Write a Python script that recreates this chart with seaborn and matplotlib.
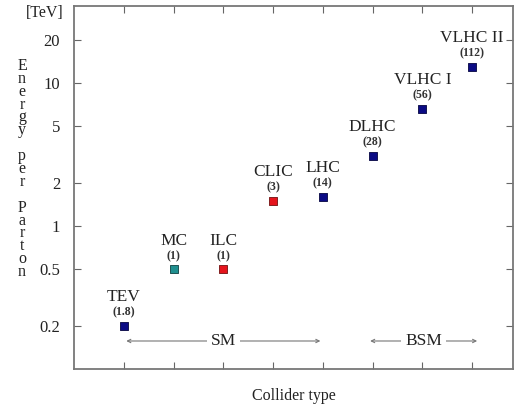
import matplotlib
matplotlib.use("Agg")
import matplotlib.pyplot as plt
import seaborn as sns
import pandas as pd
from matplotlib.ticker import FixedLocator, FixedFormatter, NullLocator

colliders = ["TEV", "MC", "ILC", "CLIC", "LHC", "DLHC", "VLHC I", "VLHC II"]
cm_energy = ["(1.8)", "(1)", "(1)", "(3)", "(14)", "(28)", "(56)", "(112)"]
energy = [0.2, 0.5, 0.5, 1.5, 1.6, 3.1, 6.6, 13.0]
kind = ["hadron", "muon", "lepton", "lepton", "hadron", "hadron", "hadron", "hadron"]
palette = {"hadron": "#0b0b84", "muon": "#1f8f8f", "lepton": "#e5141c"}
edges = {"hadron": "#050540", "muon": "#0c4040", "lepton": "#701010"}
ytick_vals = [0.2, 0.5, 1, 2, 5, 10, 20]
ytick_labels = ["0.2", "0.5", "1", "2", "5", "10", "20"]
groups = ["SM", "BSM"]
group_start = [1.05, 5.95]
group_end = [4.95, 8.1]
group_level = 0.157

df = pd.DataFrame({"pos": list(range(1, len(colliders) + 1)),
                   "energy": energy, "kind": kind, "name": colliders,
                   "cm": cm_energy})

sns.set_style("ticks")
plt.rcParams["font.family"] = ["Liberation Serif", "DejaVu Serif"]

fig = plt.figure(figsize=(5.14, 4.04), dpi=100)
ax = fig.add_axes([0.144, 0.0866, 0.854, 0.8985])

for k in palette:
    sub = df[df["kind"] == k]
    sns.scatterplot(data=sub, x="pos", y="energy", color=palette[k], marker="s",
                    s=32, edgecolor=edges[k], linewidth=0.6, ax=ax, legend=False,
                    zorder=3)

ax.set_yscale("log")
ax.set_ylim(0.1, 34.5)
ax.set_xlim(0, 8.82)

for _, r in df.iterrows():
    ax.annotate(r["cm"], (r["pos"], r["energy"]), xytext=(0, 9.5),
                textcoords="offset points", ha="center", va="center",
                fontsize=8.5, fontweight="bold", color="#333333")
    ax.annotate(r["name"], (r["pos"], r["energy"]), xytext=(0, 20.5),
                textcoords="offset points", ha="center", va="center",
                fontsize=12.5, color="#222222")

for g, s0, s1 in zip(groups, group_start, group_end):
    ax.annotate("", xy=(s0, group_level), xytext=(s1, group_level),
                arrowprops=dict(arrowstyle="<->", color="#777777", lw=0.8,
                                shrinkA=0, shrinkB=0, mutation_scale=6))
    ax.text((s0 + s1) / 2, group_level, g, ha="center", va="center",
            fontsize=12.5, color="#222222",
            bbox=dict(facecolor="white", edgecolor="none", pad=3))

ax.yaxis.set_major_locator(FixedLocator(ytick_vals))
ax.yaxis.set_major_formatter(FixedFormatter(ytick_labels))
ax.yaxis.set_minor_locator(NullLocator())
ax.xaxis.set_major_locator(FixedLocator(df["pos"].tolist()))
ax.set_xticklabels([])
ax.tick_params(axis="both", which="major", direction="in", length=5,
               width=0.8, color="#666666", top=True, right=True,
               labelsize=12, labelcolor="#222222", pad=10)

for sp in ax.spines.values():
    sp.set_visible(True)
    sp.set_color("#777777")
    sp.set_linewidth(1.3)

ax.set_xlabel("Collider type", fontsize=11.5, color="#222222", labelpad=4)
ax.set_ylabel("")

ylabel = "Energy per Parton"
stacked = "\n".join(ch if ch != " " else "" for ch in ylabel)
fig.text(22 / 514, 1 - 169 / 404, stacked, ha="center", va="center",
         fontsize=11.5, linespacing=0.74, color="#222222")
fig.text(45 / 514, 1 - 13 / 404, "[TeV]", ha="center", va="center",
         fontsize=11.5, color="#222222")

fig.savefig("out.png", dpi=100)
